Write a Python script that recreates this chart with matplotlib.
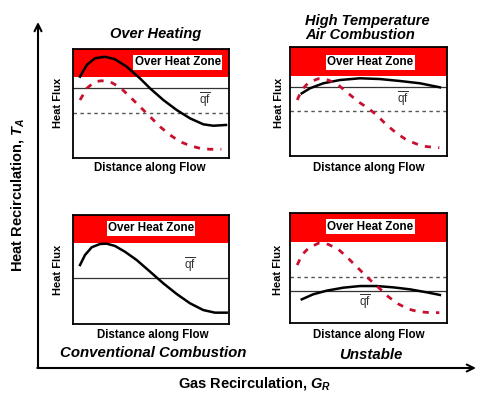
import matplotlib.pyplot as plt
import matplotlib.patches as mpatches

plt.rcParams['font.family'] = ['Liberation Sans', 'DejaVu Sans']
plt.rcParams['mathtext.fontset'] = 'custom'
plt.rcParams['mathtext.rm'] = 'Liberation Sans'
plt.rcParams['mathtext.it'] = 'Liberation Sans:italic:bold'

# --- data (distance along flow 0-10, heat flux 0-10 inside each panel) ---
tl_black_x = [0.45, 0.88, 1.41, 2.05, 2.69, 3.44, 4.29, 4.94, 5.79, 6.65, 7.5, 8.35, 8.99, 9.81]
tl_black_y = [7.46, 8.53, 9.15, 9.29, 9.06, 8.38, 7.31, 6.39, 5.32, 4.40, 3.64, 3.09, 2.96, 3.03]
tl_red_x = [0.45, 0.88, 1.41, 1.84, 2.48, 3.01, 3.65, 4.29, 4.94, 5.58, 6.22, 6.86, 7.5, 8.14, 8.78, 9.51]
tl_red_y = [5.32, 6.39, 7.0, 7.09, 6.91, 6.49, 5.62, 4.71, 3.79, 2.87, 2.11, 1.5, 1.13, 0.89, 0.8, 0.8]

tr_black_x = [0.75, 1.27, 2.12, 3.18, 4.46, 5.73, 7.01, 8.28, 9.55]
tr_black_y = [5.75, 6.21, 6.67, 6.97, 7.13, 7.06, 6.88, 6.67, 6.3]
tr_red_x = [0.46, 0.75, 1.17, 1.8, 2.44, 3.08, 3.71, 4.35, 4.99, 5.52, 6.16, 6.8, 7.43, 8.07, 8.71, 9.51]
tr_red_y = [5.14, 6.06, 6.73, 7.09, 6.97, 6.51, 5.75, 4.98, 4.37, 3.76, 2.84, 2.08, 1.47, 1.1, 0.86, 0.76]

bl_black_x = [0.45, 0.77, 1.2, 1.73, 2.16, 2.69, 3.33, 4.08, 4.94, 5.79, 6.65, 7.5, 8.35, 9.1, 9.85]
bl_black_y = [5.41, 6.33, 7.04, 7.34, 7.37, 7.16, 6.63, 5.87, 4.8, 3.73, 2.75, 1.9, 1.28, 1.04, 1.04]

br_black_x = [0.75, 1.48, 2.34, 3.39, 4.46, 5.52, 6.58, 7.64, 8.71, 9.55]
br_black_y = [2.15, 2.61, 2.94, 3.21, 3.36, 3.36, 3.24, 3.06, 2.79, 2.55]
br_red_x = [0.46, 0.75, 1.17, 1.8, 2.44, 3.08, 3.71, 4.35, 4.99, 5.62, 6.26, 6.9, 7.53, 8.17, 8.92, 9.51]
br_red_y = [5.27, 6.18, 6.79, 7.25, 7.15, 6.7, 5.88, 4.97, 4.06, 3.25, 2.39, 1.73, 1.27, 1.03, 0.94, 0.94]

# zone start, mean line, dotted line (None = absent)
tl_levels = (7.43, 6.42, 4.13)
tr_levels = (7.34, 6.33, 4.13)
bl_levels = (7.43, 4.22, None)
br_levels = (7.36, 2.91, 4.18)

W, H = 483, 395
fig = plt.figure(figsize=(W / 100, H / 100), dpi=100)


def px(x, y):
    return x / W, 1 - y / H


def panel(box, levels, black, red, zone_lbl, qf_pos):
    x0, y0, x1, y1 = box
    ax = fig.add_axes([x0 / W, 1 - y1 / H, (x1 - x0) / W, (y1 - y0) / H])
    ax.set_xlim(0, 10)
    ax.set_ylim(0, 10)
    ax.set_xticks([])
    ax.set_yticks([])
    for s in ax.spines.values():
        s.set_linewidth(1.3)
        s.set_zorder(10)
    zone, mean, dot = levels
    ax.axhspan(zone, 10, color='#ff0000', lw=0, zorder=1)
    ax.axhline(mean, color='#333333', lw=0.9, zorder=2)
    if dot is not None:
        ax.axhline(dot, color='#555555', lw=1.0, ls=(0, (2.5, 2.5)), zorder=2)
    ax.text(zone_lbl[0], zone_lbl[1], 'Over Heat Zone', ha='center', va='center',
            fontsize=8.4, fontweight='bold', zorder=5,
            bbox=dict(boxstyle='square,pad=0.12', fc='white', ec='none'))
    ax.text(qf_pos[0], qf_pos[1], r'$\overline{\mathrm{qf}}$', ha='center', va='center',
            fontsize=8.5, color='#333333', zorder=5)
    if red is not None:
        ax.plot(red[0], red[1], color='#c8102e', lw=2.0, ls=(0, (2.2, 2.6)), zorder=4)
    ax.plot(black[0], black[1], color='black', lw=1.8, zorder=3)
    return ax


panel((73, 49, 229, 158), tl_levels, (tl_black_x, tl_black_y), (tl_red_x, tl_red_y),
      (6.71, 8.78), (8.46, 5.32))
panel((290, 47, 447, 156), tr_levels, (tr_black_x, tr_black_y), (tr_red_x, tr_red_y),
      (5.1, 8.6), (7.22, 5.29))
panel((73, 215, 229, 324), bl_levels, (bl_black_x, bl_black_y), None,
      (5.0, 8.78), (7.5, 5.41))
panel((290, 213, 447, 323), br_levels, (br_black_x, br_black_y), (br_red_x, br_red_y),
      (5.1, 8.75), (4.78, 1.9))

# panel labels
for (x, y) in [(58, 103), (279, 103), (58, 270), (278, 270)]:
    fig.text(*px(x, y), 'Heat Flux', rotation=90, ha='center', va='center',
             fontsize=8, fontweight='bold')
for (x, y) in [(150, 168), (369, 168), (153, 335), (369, 335)]:
    fig.text(*px(x, y), 'Distance along Flow', ha='center', va='center',
             fontsize=8.3, fontweight='bold')

fig.text(*px(156, 34), 'Over Heating', ha='center', va='center',
         fontsize=10.5, fontweight='bold', style='italic')
fig.text(*px(305, 28), 'High Temperature\nAir Combustion', ha='left', va='center',
         fontsize=10.5, fontweight='bold', style='italic', linespacing=0.95)
fig.text(*px(153, 353), 'Conventional Combustion', ha='center', va='center',
         fontsize=10.8, fontweight='bold', style='italic')
fig.text(*px(371, 355), 'Unstable', ha='center', va='center',
         fontsize=10.8, fontweight='bold', style='italic')

# main axes arrows
fig.patches.append(mpatches.FancyArrowPatch(
    px(38, 368), px(38, 22), transform=fig.transFigure, arrowstyle='->,head_length=5,head_width=2.5',
    lw=1.5, color='black', shrinkA=0, shrinkB=0))
fig.patches.append(mpatches.FancyArrowPatch(
    px(37.3, 368), px(476, 368), transform=fig.transFigure, arrowstyle='->,head_length=5,head_width=2.5',
    lw=1.5, color='black', shrinkA=0, shrinkB=0))

fig.text(*px(255, 383), r'Gas Recirculation, $G_R$', ha='center', va='center',
         fontsize=10.5, fontweight='bold')
fig.text(*px(18, 195), r'Heat Recirculation, $T_A$', rotation=90, ha='center', va='center',
         fontsize=10.5, fontweight='bold')

fig.savefig('out.png', dpi=100)
